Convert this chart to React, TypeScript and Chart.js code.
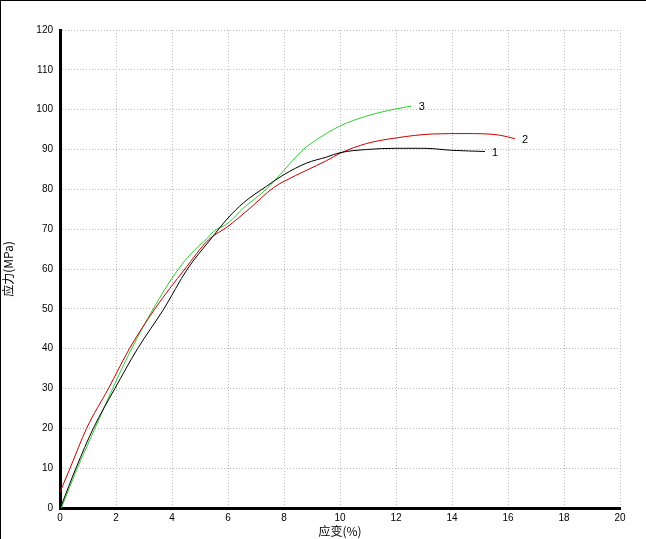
import React, { useEffect, useRef } from "react";
import { Chart, registerables } from "chart.js";

Chart.register(...registerables);

// Series 1 (black)
const s1Strain = [0.05, 0.57, 1.19, 1.96, 2.77, 3.71, 4.55, 5.36, 6.0, 6.55, 7.38, 8.0, 8.81, 9.52, 10.0, 10.95, 12.0, 13.0, 14.0, 15.18];
const s1Stress = [0.7, 10, 20, 30, 40, 50, 60, 67.3, 72.8, 76.6, 80.8, 83.7, 86.6, 88.1, 89.2, 90.0, 90.3, 90.3, 89.8, 89.5];
// Series 2 (red)
const s2Strain = [0.0, 0.36, 0.95, 1.73, 2.48, 3.39, 4.46, 5.3, 6.0, 6.79, 7.62, 8.0, 8.81, 9.52, 10.02, 10.95, 12.0, 13.33, 14.5, 15.7, 16.25];
const s2Stress = [4.0, 10, 20, 30, 40, 50, 60, 67.3, 70.7, 75.3, 80.4, 82.0, 84.8, 87.2, 89.1, 91.5, 92.9, 93.9, 94.0, 93.6, 92.7];
// Series 3 (green)
const s3Strain = [0.05, 0.62, 1.25, 1.88, 2.56, 3.33, 4.23, 5.0, 5.21, 5.48, 6.0, 6.55, 7.38, 7.86, 8.69, 9.17, 10.0, 10.95, 12.0, 12.56];
const s3Stress = [0.0, 10, 20, 30, 40, 50, 60, 66.1, 67.3, 69.4, 71.5, 75.3, 80.1, 83.7, 90.0, 92.5, 95.9, 98.4, 100.2, 100.9];

const seriesNames = ["1", "2", "3"];
const seriesColors = ["#000000", "#c80000", "#33cc33"];

const xTitle = "应变(%)";
const yTitle = "应力(MPa)";
const xMin = 0, xMax = 20, xStep = 2;
const yMin = 0, yMax = 120, yStep = 10;

function toPoints(xs: number[], ys: number[]) {
  return xs.map((x, i) => ({ x, y: ys[i] }));
}

const framePlugin = {
  id: "frame",
  beforeDraw(chart: any) {
    const ctx = chart.ctx;
    ctx.save();
    ctx.fillStyle = "#ffffff";
    ctx.fillRect(0, 0, chart.width, chart.height);
    ctx.fillStyle = "#000000";
    ctx.fillRect(0, 0, chart.width, 1);
    ctx.fillRect(0, 0, 1, chart.height);
    ctx.restore();
  },
};

const endLabelPlugin = {
  id: "endLabels",
  afterDatasetsDraw(chart: any) {
    const ctx = chart.ctx;
    ctx.save();
    ctx.font = "11px 'Liberation Sans', sans-serif";
    ctx.fillStyle = "#000";
    ctx.textAlign = "left";
    ctx.textBaseline = "middle";
    chart.data.datasets.forEach((ds: any, i: number) => {
      const meta = chart.getDatasetMeta(i);
      const pt = meta.data[meta.data.length - 1];
      if (pt) ctx.fillText(ds.label, pt.x + 7, pt.y + 1);
    });
    ctx.restore();
  },
};

export default function App() {
  const ref = useRef<HTMLCanvasElement>(null);

  useEffect(() => {
    if (!ref.current) return;
    const sets = [
      toPoints(s1Strain, s1Stress),
      toPoints(s2Strain, s2Stress),
      toPoints(s3Strain, s3Stress),
    ];
    const chart = new Chart(ref.current, {
      type: "line",
      data: {
        datasets: sets.map((d, i) => ({
          label: seriesNames[i],
          data: d,
          borderColor: seriesColors[i],
          backgroundColor: seriesColors[i],
          borderWidth: 1,
          pointRadius: 0,
          cubicInterpolationMode: "monotone",
          fill: false,
        })),
      },
      options: {
        responsive: false,
        animation: false,
        devicePixelRatio: 1,
        layout: { padding: { top: 30, right: 26, left: 0, bottom: 0 } },
        plugins: {
          legend: { display: false },
          tooltip: { enabled: false },
        },
        scales: {
          x: {
            type: "linear",
            min: xMin,
            max: xMax,
            ticks: {
              stepSize: xStep,
              color: "#000",
              padding: 4,
              font: { family: "'Liberation Sans', sans-serif", size: 10 },
            },
            grid: { color: "#b8b8b8", drawTicks: false, lineWidth: 1 },
            border: { color: "#000", width: 3, dash: [1, 2] },
            title: {
              display: true,
              text: xTitle,
              color: "#000",
              padding: { top: 0, bottom: 0 },
              font: { family: "'Noto Sans CJK SC', sans-serif", size: 12 },
            },
            afterFit(scale: any) {
              scale.height = 31;
            },
          },
          y: {
            type: "linear",
            min: yMin,
            max: yMax,
            ticks: {
              stepSize: yStep,
              color: "#000",
              padding: 7,
              font: { family: "'Liberation Sans', sans-serif", size: 10 },
            },
            grid: { color: "#b8b8b8", drawTicks: false, lineWidth: 1 },
            border: { color: "#000", width: 3, dash: [1, 2] },
            title: {
              display: true,
              text: yTitle,
              color: "#000",
              padding: { top: 1, bottom: 0 },
              font: { family: "'Noto Sans CJK SC', sans-serif", size: 12 },
            },
            afterFit(scale: any) {
              scale.width = 60;
            },
          },
        },
      },
      plugins: [framePlugin, endLabelPlugin],
    } as any);
    return () => chart.destroy();
  }, []);

  return (
    <div style={{ position: "fixed", left: 0, top: 0, width: 646, height: 539, background: "#fff" }}>
      <canvas ref={ref} width={646} height={539} style={{ display: "block" }} />
    </div>
  );
}
